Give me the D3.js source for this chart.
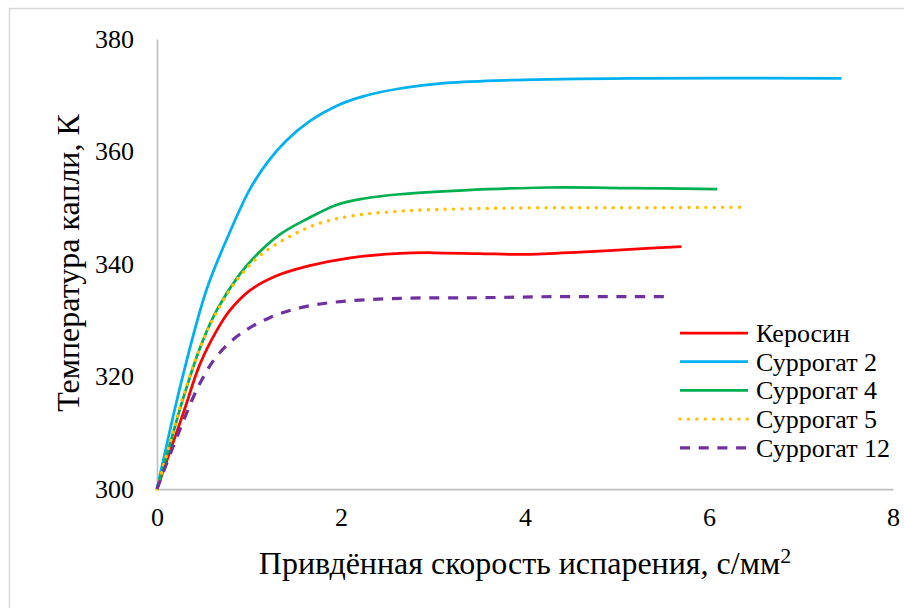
<!DOCTYPE html>
<html>

<head>
    <meta charset="UTF-8">
    <title>Температура капли</title>
    <script src="https://d3js.org/d3.v7.min.js"></script>
    <style>
        body { margin: 0; background: white; }
    </style>
</head>

<body>
    <script>
        var width = 904, height = 608;
        var serif = "'Liberation Serif', 'Times New Roman', serif";

        // data: [x, T]
        var seriesNames = ["Керосин", "Суррогат 2", "Суррогат 4", "Суррогат 5", "Суррогат 12"];
        var kerosene = [[0, 300], [0.286, 313.5], [0.467, 322.2], [0.65, 328.2], [0.79, 331.7], [1.01, 335.3],
            [1.3, 337.9], [1.66, 339.7], [2.1, 341.1], [2.64, 341.9], [3.0, 342.0], [3.5, 341.85], [4.0, 341.7],
            [4.6, 342.1], [5.14, 342.6], [5.7, 343.1]];
        var surrogate2 = [[0, 300], [0.27, 319.4], [0.54, 335.5], [0.79, 345.6], [1.01, 353.3], [1.21, 358.3],
            [1.41, 362.0], [1.66, 365.4], [1.95, 368.1], [2.24, 369.8], [2.64, 371.2], [3.15, 372.2],
            [3.87, 372.7], [5.14, 373], [7.44, 373]];
        var surrogate4 = [[0, 300], [0.15, 308.5], [0.286, 316.2], [0.47, 325.2], [0.65, 331.8], [0.9, 338.2], [1.1, 341.9],
            [1.34, 345.3], [1.63, 348.0], [1.95, 350.5], [2.24, 351.6], [2.64, 352.4], [3.33, 353.1], [4.24, 353.6],
            [5.14, 353.5], [6.09, 353.3]];
        var surrogate5 = [[0, 300], [0.15, 308.7], [0.286, 316.5], [0.47, 325.2], [0.65, 331.5], [0.87, 337.2], [1.12, 341.5],
            [1.41, 344.6], [1.74, 347.1], [2.1, 348.5], [2.64, 349.4], [3.33, 349.8], [4.2, 350.0], [5.14, 350.0], [6.4, 350.1]];
        var surrogate12 = [[0, 300], [0.23, 309.8], [0.467, 318.8], [0.65, 323.6], [0.9, 327.5], [1.23, 330.5],
            [1.55, 332.2], [1.92, 333.2], [2.64, 333.9], [3.5, 334.0], [4.3, 334.2], [5.14, 334.2], [5.51, 334.2]];
        var xTicks = [0, 2, 4, 6, 8];
        var yTicks = [300, 320, 340, 360, 380];

        var colors = ["#FF0000", "#00B0F0", "#00B050", "#FFC000", "#7030A0"];
        var dashes = [null, null, null, "0.1 8.3", "10 8.7"];
        var widths = [2.75, 2.75, 2.75, 3.4, 3.2];
        var allSeries = [kerosene, surrogate2, surrogate4, surrogate5, surrogate12];

        var svg = d3.select("body").append("svg")
            .attr("width", width).attr("height", height)
            .style("font-family", serif);

        // chart border
        svg.append("rect").attr("x", 9.5).attr("y", 8.5).attr("width", 900).attr("height", 620)
            .attr("fill", "white").attr("stroke", "#D9D9D9").attr("stroke-width", 1.5);

        var x = d3.scaleLinear().domain([0, 8]).range([157, 893]);
        var y = d3.scaleLinear().domain([300, 380]).range([489, 39]);

        // axes (no tick marks)
        var yAxis = svg.append("g").attr("transform", "translate(157,0)")
            .call(d3.axisLeft(y).tickValues(yTicks).tickSize(0).tickPadding(23));
        var xAxis = svg.append("g").attr("transform", "translate(0,489)")
            .call(d3.axisBottom(x).tickValues(xTicks).tickSize(0).tickPadding(19));

        [xAxis, yAxis].forEach(function (a) {
            a.attr("font-family", serif).attr("font-size", 26);
            a.select(".domain").attr("stroke", "#BFBFBF").attr("stroke-width", 1.75);
            a.selectAll("text").style("font-family", serif).style("font-size", "26px").attr("fill", "#000");
        });

        // lines
        var line = d3.line()
            .x(function (d) { return x(d[0]); })
            .y(function (d) { return y(d[1]); })
            .curve(d3.curveCatmullRom.alpha(0.5));

        svg.append("g").selectAll("path").data(allSeries).enter()
            .append("path")
            .attr("d", line)
            .attr("fill", "none")
            .attr("stroke", function (d, i) { return colors[i]; })
            .attr("stroke-width", function (d, i) { return widths[i]; })
            .attr("stroke-dasharray", function (d, i) { return dashes[i]; })
            .attr("stroke-linecap", function (d, i) { return i == 3 ? "round" : "butt"; });

        // axis titles
        svg.append("text")
            .style("font-family", serif).style("font-size", "32px")
            .attr("x", 525).attr("y", 574).attr("text-anchor", "middle")
            .text("Привдённая скорость испарения, с/мм")
            .append("tspan").attr("dy", -11).style("font-size", "22px").text("2");

        svg.append("text")
            .style("font-family", serif).style("font-size", "32px")
            .attr("transform", "translate(79,263) rotate(-90)")
            .attr("text-anchor", "middle")
            .text("Температура капли, К");

        // legend
        var legend = svg.append("g").selectAll(".legends").data(seriesNames).enter()
            .append("g").classed("legends", true)
            .attr("transform", function (d, i) { return "translate(680," + (333 + i * 28.7) + ")"; });

        legend.append("line").attr("x1", 0).attr("x2", 68).attr("y1", 0).attr("y2", 0)
            .attr("stroke", function (d, i) { return colors[i]; })
            .attr("stroke-width", function (d, i) { return widths[i]; })
            .attr("stroke-dasharray", function (d, i) { return dashes[i]; })
            .attr("stroke-linecap", function (d, i) { return i == 3 ? "round" : "butt"; });

        legend.append("text")
            .style("font-family", serif).style("font-size", "26px")
            .attr("x", 76).attr("y", 9)
            .text(function (d) { return d; });
    </script>
</body>

</html>
